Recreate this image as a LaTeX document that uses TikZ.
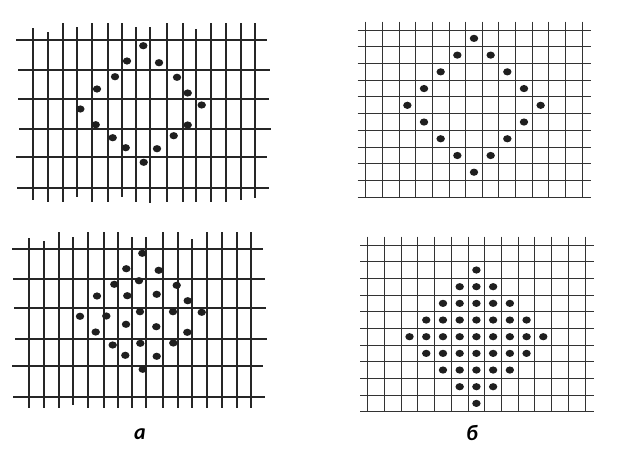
\documentclass[tikz,border=0pt]{standalone}
\usepackage{fontspec}
\setmainfont{Carlito}
\begin{document}
\begin{tikzpicture}[x=1pt,y=-1pt,
  thick grid/.style={line width=2pt,black!85},
  thin grid/.style={line width=1pt,black!80},
  dot/.style={fill=black!88},
  lbl/.style={font=\fontsize{22}{24}\selectfont\bfseries\itshape}]
\useasboundingbox[fill=white] (0,0) rectangle (617,458);

% ---------- top-left (a, upper) ----------
\foreach \y/\a/\b in {40/16/267,70/18/270,99/18/269,129/19/271,157/16/267,188/17/269}
  \draw[thick grid] (\a,\y) -- (\b,\y);
\foreach \x/\t/\bb in {33/28/200,48/32/202,63/23/202,77/27/197,92/23/202,
  108/23/202,122/23/197,136/27/202,150/27/203,167/23/202,183/23/202,
  196/29/202,211/23/202,226/23/202,241/23/200,255/23/198}
  \draw[thick grid] (\x,\t) -- (\x,\bb);
\foreach \x/\y in {143.3/45.7,127/61,159/62.7,115/76.7,177/77.3,97/89,187.7/93,80.3/109,
  201.7/105,95.7/124.7,187.7/125,112.7/137.7,173.7/135.7,125.7/147.7,157/148.7,143.7/162.3}
  \fill[dot] (\x,\y) ellipse [x radius=4.2, y radius=3.6];

% ---------- bottom-left (a, lower) ----------
\foreach \y/\a/\b in {249/12/263,279/13/265,308/14/266,339/15/267,366/12/263,397/13/265}
  \draw[thick grid] (\a,\y) -- (\b,\y);
\foreach \x/\t/\bb in {29/238/408,44/241/408,59/232/408,73/237/405,88/232/408,
  104/232/408,118/232/408,132/237/408,146/237/408,163/232/408,178/232/408,
  192/239/408,207/232/408,222/232/408,237/232/408,251/232/408}
  \draw[thick grid] (\x,\t) -- (\x,\bb);
\foreach \x/\y in {142.3/253.3,126.3/268.7,158.7/270.3,139/280.7,114.3/284.3,176.7/285.3,
  97/296,127.3/295.7,156.7/294.3,187.7/300.7,80/316.3,106.3/316,140/311.7,173/311.7,201.7/312.3,
  126/324.3,156.3/326.7,95.7/332,187.3/332.3,112.7/345,140.3/343.3,173.3/343,125.3/355.3,
  156.7/356.3,142.7/369.3}
  \fill[dot] (\x,\y) ellipse [x radius=4.2, y radius=3.6];

% ---------- top-right (b, upper) ----------
\foreach \i in {0,...,10}{
  \pgfmathsetmacro{\yy}{floor(30+16.73*\i)+0.5}
  \draw[thin grid] (357.5,\yy) -- (590.5,\yy);}
\foreach \j in {0,...,13}{
  \pgfmathsetmacro{\xx}{floor(365.7+16.66*\j)+0.5}
  \draw[thin grid] (\xx,21.5) -- (\xx,197.5);}
\foreach \dx in {-4,...,4}
  \foreach \dy in {-4,...,4}{
    \pgfmathtruncatemacro{\s}{abs(\dx)+abs(\dy)}
    \ifnum\s=4
      \fill[dot] (474+16.66*\dx,105.3+16.73*\dy) ellipse [x radius=4.2, y radius=3.6];
    \fi}

% ---------- bottom-right (b, lower) ----------
\foreach \i in {0,...,10}{
  \pgfmathsetmacro{\yy}{floor(245+16.67*\i)+0.5}
  \draw[thin grid] (360,\yy) -- (593.5,\yy);}
\foreach \j in {0,...,13}{
  \pgfmathsetmacro{\xx}{floor(367.7+16.72*\j)+0.5}
  \draw[thin grid] (\xx,236.5) -- (\xx,411.5);}
\foreach \dx in {-4,...,4}
  \foreach \dy in {-4,...,4}{
    \pgfmathtruncatemacro{\s}{abs(\dx)+abs(\dy)}
    \ifnum\s<5
      \fill[dot] (476.4+16.72*\dx,336.7+16.67*\dy) ellipse [x radius=4.2, y radius=3.6];
    \fi}

% ---------- labels ----------
\node[lbl] (la) at (140,434) {а};
\node[lbl] (lb) at (472,433) {б};
\end{tikzpicture}
\end{document}
